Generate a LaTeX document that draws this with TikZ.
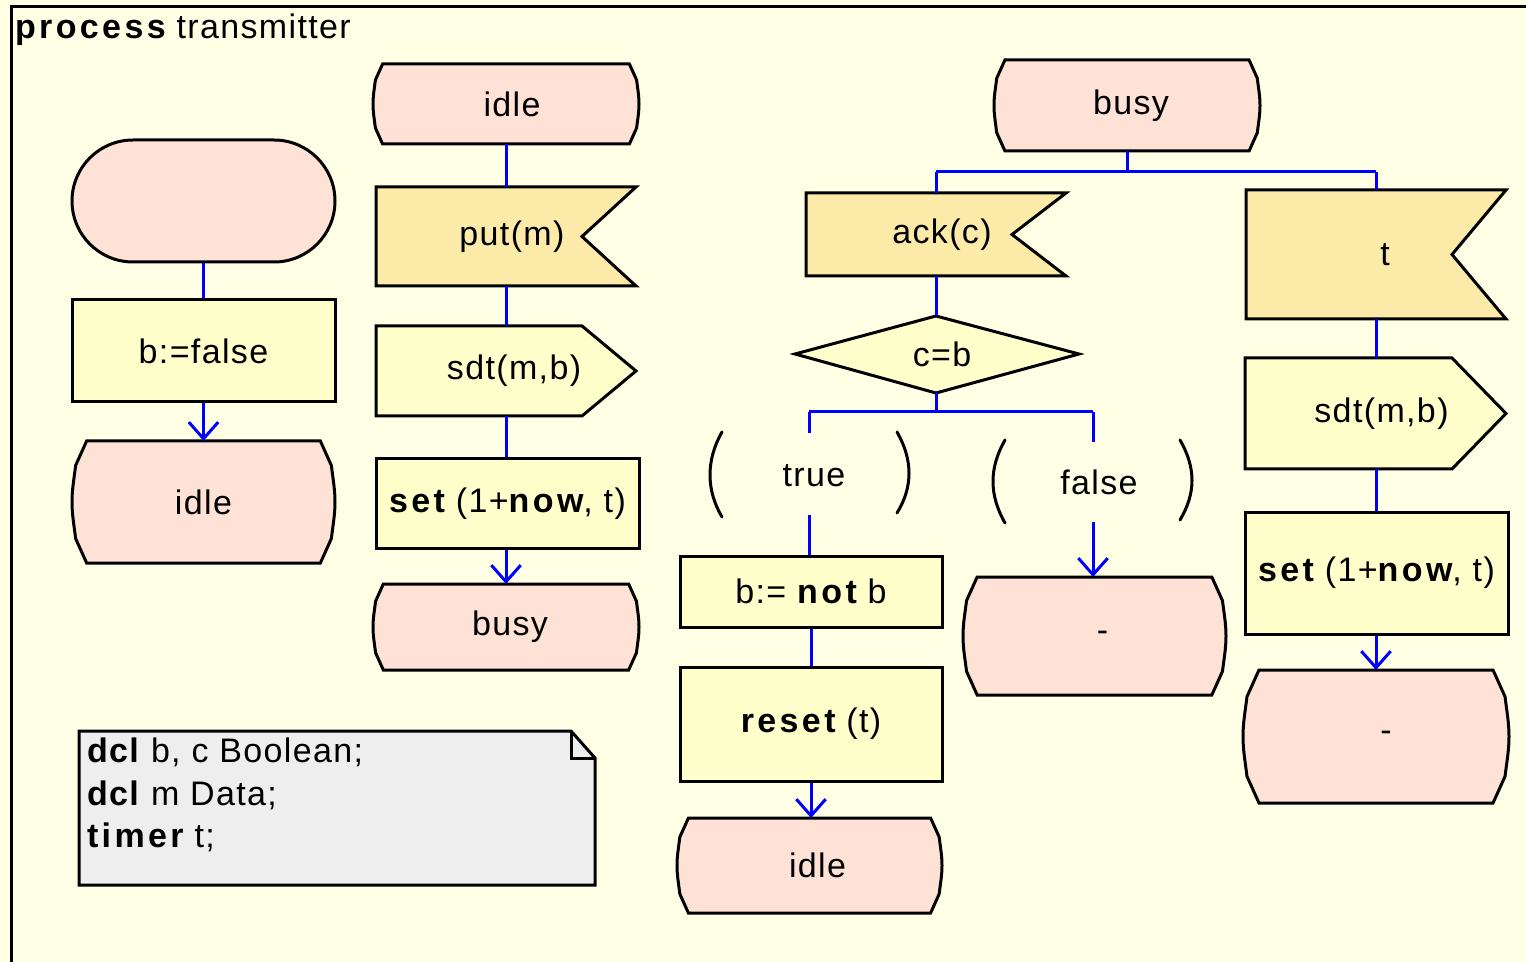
\documentclass[tikz,border=0pt]{standalone}
\usepackage{fontspec}
\setmainfont[LetterSpace=4]{Liberation Sans}
\usetikzlibrary{arrows.meta,calc}
\definecolor{bgcol}{RGB}{255,255,230}
\definecolor{statefill}{RGB}{255,226,214}
\definecolor{taskfill}{RGB}{255,255,204}
\definecolor{inputfill}{RGB}{252,235,168}
\definecolor{notefill}{RGB}{238,238,238}
\newcommand\sdlkw[1]{{\bfseries\addfontfeature{LetterSpace=10}#1}}
\tikzset{
  outl/.style={draw=black, line width=1.5pt, line join=miter},
  flow/.style={draw=blue, line width=1.5pt},
  arr/.style={flow, -{Straight Barb[length=8.3pt,width=14.7pt]}},
  txt/.style={inner sep=0pt, outer sep=0pt},
  paren/.style={draw=black, line width=1.5pt, line cap=round},
}
% name x1 y1 x2 y2 text
\newcommand\sdlstate[6]{%
  \pgfmathsetmacro\sdlH{#5-#3}%
  \pgfmathsetmacro\sdlCX{0.12*\sdlH}%
  \pgfmathsetmacro\sdlCY{0.2*\sdlH}%
  \pgfmathsetmacro\sdlBX{0.03*\sdlH}%
  \pgfmathsetmacro\sdlM{(#3+#5)/2}%
  \draw[outl,fill=statefill] ({#2+\sdlCX},#3) -- ({#4-\sdlCX},#3) -- ({#4-\sdlBX},{#3+\sdlCY})
     .. controls ({#4-0.5*\sdlBX},{#3+\sdlCY+0.12*\sdlH}) and ({#4},{\sdlM-0.1*\sdlH}) .. ({#4},\sdlM)
     .. controls ({#4},{\sdlM+0.1*\sdlH}) and ({#4-0.5*\sdlBX},{#5-\sdlCY-0.12*\sdlH}) .. ({#4-\sdlBX},{#5-\sdlCY})
     -- ({#4-\sdlCX},#5) -- ({#2+\sdlCX},#5) -- ({#2+\sdlBX},{#5-\sdlCY})
     .. controls ({#2+0.5*\sdlBX},{#5-\sdlCY-0.12*\sdlH}) and ({#2},{\sdlM+0.1*\sdlH}) .. ({#2},\sdlM)
     .. controls ({#2},{\sdlM-0.1*\sdlH}) and ({#2+0.5*\sdlBX},{#3+\sdlCY+0.12*\sdlH}) .. ({#2+\sdlBX},{#3+\sdlCY}) -- cycle;
  \node[txt, minimum width={(#4-#2)*0.5pt}, minimum height={(#5-#3)*0.5pt}] (#1) at ({(#2+#4)/2},\sdlM) {#6};
}
\newcommand\sdlinput[6]{%
  \draw[outl,fill=inputfill] (#2,#3) -- (#4,#3) -- ({#4-54},{(#3+#5)/2}) -- (#4,#5) -- (#2,#5) -- cycle;
  \node[txt, minimum width={(#4-#2)*0.5pt}, minimum height={(#5-#3)*0.5pt}] (#1) at ({(#2+#4)/2},{(#3+#5)/2}) {#6};
}
\newcommand\sdloutput[6]{%
  \draw[outl,fill=taskfill] (#2,#3) -- ({#4-54},#3) -- (#4,{(#3+#5)/2}) -- ({#4-54},#5) -- (#2,#5) -- cycle;
  \node[txt, minimum width={(#4-#2)*0.5pt}, minimum height={(#5-#3)*0.5pt}] (#1) at ({(#2+#4)/2},{(#3+#5)/2}) {#6};
}
\newcommand\sdltask[6]{%
  \node[outl, fill=taskfill, inner sep=0pt, minimum width={(#4-#2)*0.5pt}, minimum height={(#5-#3)*0.5pt}] (#1) at ({(#2+#4)/2},{(#3+#5)/2}) {#6};
}
\begin{document}
\begin{tikzpicture}[x=0.5pt,y=-0.5pt, font=\fontsize{17}{20}\selectfont]
\useasboundingbox (0,0) rectangle (1526,962);
\fill[bgcol] (0,0) rectangle (1526,962);
% frame
\draw[line width=1.5pt] (1530,7) -- (11,7) -- (11,970);
\node[txt, anchor=base west] (title) at (15,39) {\sdlkw{process} transmitter};

% column 1
\node[outl, fill=statefill, rounded corners=30.5pt, minimum width=131.5pt, minimum height=61pt] (start) at (203.5,201) {};
\sdltask{bfalse}{72}{300}{335}{402}{b:=false}
\sdlstate{idleA}{72}{441}{335}{563}{idle}
\draw[flow] (start.south) -- (bfalse.north);
\draw[arr] (bfalse.south) -- (idleA.north);

% column 2
\sdlstate{idleB}{373}{64}{639}{144}{\hspace*{6pt}idle}
\sdlinput{put}{376}{187}{636}{286}{\hspace*{6pt}\raisebox{-2pt}{put(m)}}
\sdloutput{sdtA}{376}{326}{636}{416}{\hspace*{8pt}sdt(m,b)}
\sdltask{setA}{376}{459}{639}{548}{\sdlkw{set} (1+\sdlkw{now}, t)}
\sdlstate{busyA}{373}{584}{639}{670}{\hspace*{4pt}busy}
\draw[flow] (idleB.south) -- (put.north);
\draw[flow] (put.south) -- (sdtA.north);
\draw[flow] (sdtA.south) -- (sdtA.south |- setA.north);
\draw[arr] (sdtA.south |- setA.south) -- (sdtA.south |- busyA.north);

% column 3
\sdlstate{busyB}{994}{60}{1260}{151}{\hspace*{4pt}busy}
\sdlinput{ack}{806}{193}{1066}{276}{\hspace*{6pt}\raisebox{-2pt}{ack(c)}}
\draw[outl,fill=taskfill] (936,316) -- (1079,354) -- (936,393) -- (795,354) -- cycle;
\node[txt, minimum width=142pt, minimum height=38.5pt] (dec) at (936,354.5) {\hspace*{6pt}c=b};
\sdltask{notb}{680}{556}{942}{627}{b:= \sdlkw{not} b}
\sdltask{reset}{680}{667}{942}{781}{\sdlkw{reset} (t)}
\sdlstate{idleC}{677}{818}{942}{913}{\hspace*{8pt}idle}
\sdlstate{dashA}{963}{577}{1226}{695}{\hspace*{8pt}\raisebox{-2pt}{-}}

% column 4
\sdlinput{tsig}{1246}{190}{1506}{319}{\hspace*{9pt}t}
\sdloutput{sdtB}{1245}{358}{1506}{469}{\hspace*{6pt}sdt(m,b)}
\sdltask{setB}{1245}{512}{1508}{634}{\sdlkw{set} (1+\sdlkw{now}, t)}
\sdlstate{dashB}{1243}{670}{1509}{803}{\hspace*{10pt}\raisebox{-2pt}{-}}

% busy branching
\coordinate (bj) at (1127,172);
\coordinate (bl) at (936,172);
\coordinate (br) at (1376,172);
\draw[flow] (busyB.south) -- (bj);
\draw[flow] (bl) -- (br);
\draw[flow] (bl) -- (ack.north);
\draw[flow] (br) -- (br |- tsig.north);
\draw[flow] (ack.south) -- (dec.north);
\draw[flow] (br |- tsig.south) -- (br |- sdtB.north);
\draw[flow] (br |- sdtB.south) -- (br |- setB.north);
\draw[arr] (br |- setB.south) -- (br |- dashB.north);

% decision branches
\coordinate (dj) at (936,412);
\coordinate (tl) at (809,412);
\coordinate (fl) at (1093,412);
\coordinate (tgap1) at (809,433);
\coordinate (tgap2) at (809,515);
\coordinate (fgap1) at (1093,442);
\coordinate (fgap2) at (1093,522);
\draw[flow] (dec.south) -- (dj);
\draw[flow] (tl) -- (fl);
\draw[flow] (tl) -- (tgap1);
\draw[flow] (tgap2) -- (tgap2 |- notb.north);
\draw[flow] (fl) -- (fgap1);
\draw[arr] (fgap2) -- (fgap2 |- dashA.north);
\draw[flow] (notb.south) -- (notb.south |- reset.north);
\draw[arr] (reset.south) -- (reset.south |- idleC.north);

% answers
\draw[paren] (722,432) .. controls (706,460) and (706,490) .. (722,517);
\draw[paren] (897,432) .. controls (913,460) and (913,487) .. (897,513);
\node[txt] (truelbl) at (814,476) {true};
\draw[paren] (1005,440) .. controls (989,468) and (989,495) .. (1005,523);
\draw[paren] (1180,440) .. controls (1196,468) and (1196,493) .. (1180,520);
\node[txt] (falselbl) at (1099,482) {false};

% note
\draw[outl, fill=notefill] (79,731) -- (571,731) -- (595,758) -- (595,885) -- (79,885) -- cycle;
\draw[outl] (571,731) -- (571,758) -- (595,758);
\node[txt, anchor=base west] (noteA) at (87,762) {\textbf{dcl} b, c Boolean;};
\node[txt, anchor=base west] (noteB) at (87,805) {\textbf{dcl} m Data;};
\node[txt, anchor=base west] (noteC) at (87,847) {\sdlkw{timer} t;};
\end{tikzpicture}
\end{document}
